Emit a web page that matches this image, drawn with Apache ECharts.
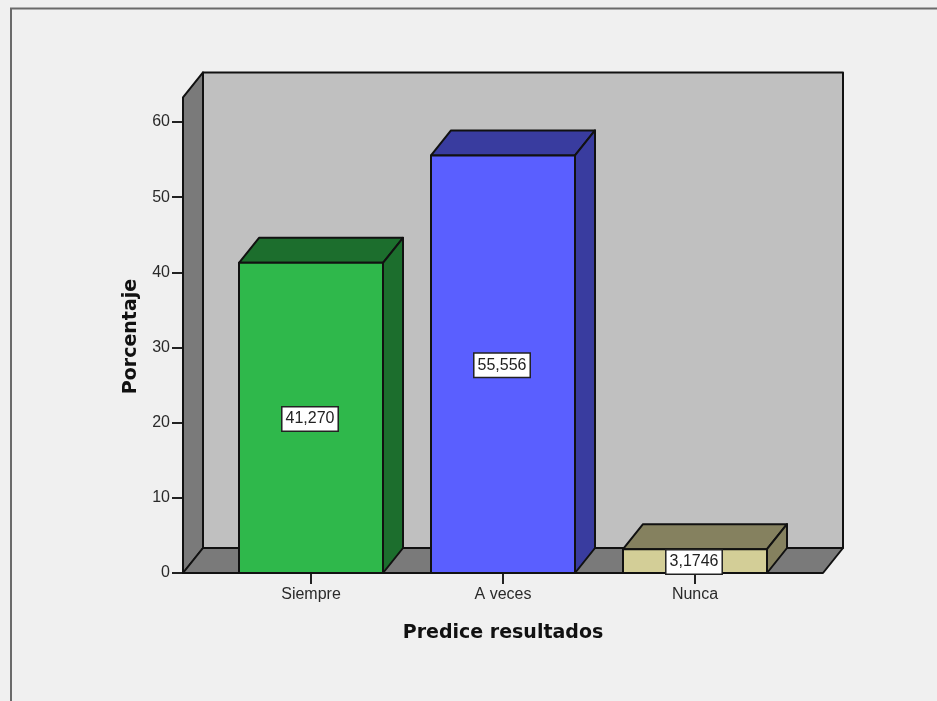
<!DOCTYPE html>
<html><head><meta charset="utf-8">
<style>html,body{margin:0;padding:0;background:#f0f0f0}#c{width:937px;height:701px}</style>
<script src="https://cdn.jsdelivr.net/npm/echarts@6/dist/echarts.min.js"></script>
</head><body><div id="c"></div>
<script>
const categories = ['Siempre', 'A veces', 'Nunca'];
const porcentaje = [41.270, 55.556, 3.1746];
const valueLabels = ['41,270', '55,556', '3,1746'];
const frontColors = ['#2fb84b', '#5a5fff', '#d3ce97'];
const topColors = ['#1c6e2d', '#393c9f', '#85815f'];
const sideColors = ['#1c6e2d', '#393c9f', '#85815f'];
const wallTop = 63.27;

const DX = 20, DY = -25, INK = '#111', LW = 2;
const chart = echarts.init(document.getElementById('c'), null, {renderer: 'canvas'});
const poly = (pts, fill) => ({type: 'polygon', shape: {points: pts}, style: {fill, stroke: INK, lineWidth: LW, lineJoin: 'round'}});

function renderWalls(params, api) {
  if (params.dataIndex !== 0) return {type: 'group', children: []};
  const band = api.size([1, 0])[0];
  const c0 = api.coord([0, 0]);
  const cN = api.coord([categories.length - 1, 0]);
  const t = api.coord([0, wallTop])[1];
  const b = c0[1];
  const l = c0[0] - band / 2 - band / 6;
  const r = cN[0] + band / 2 + band / 6;
  return {type: 'group', children: [
    poly([[l + DX, t + DY], [r + DX, t + DY], [r + DX, b + DY], [l + DX, b + DY]], '#c0c0c0'),
    poly([[l, t], [l + DX, t + DY], [l + DX, b + DY], [l, b]], '#7a7a7a'),
    poly([[l, b], [l + DX, b + DY], [r + DX, b + DY], [r, b]], '#7a7a7a')
  ]};
}

function renderBars(params, api) {
  const i = params.dataIndex;
  const w = api.size([1, 0])[0] * 0.75;
  const p = api.coord([i, api.value(1)]);
  const b = api.coord([i, 0])[1];
  const l = p[0] - w / 2, r = p[0] + w / 2, t = p[1];
  return {type: 'group', children: [
    poly([[l, t], [l + DX, t + DY], [r + DX, t + DY], [r, t]], topColors[i]),
    poly([[r, t], [r + DX, t + DY], [r + DX, b + DY], [r, b]], sideColors[i]),
    poly([[l, t], [r, t], [r, b], [l, b]], frontColors[i]),
    {type: 'text', style: {
      x: p[0] - 1, y: (t + b) / 2 + 1, text: valueLabels[i], align: 'center', verticalAlign: 'middle',
      fill: '#222', font: '16px "Liberation Sans", Arial, sans-serif',
      backgroundColor: '#fff', borderColor: '#222', borderWidth: 1.5, padding: [4, 3, 3, 3]
    }}
  ]};
}

const seriesData = categories.map((c, i) => [i, porcentaje[i]]);
chart.setOption({
  animation: false,
  backgroundColor: '#f0f0f0',
  graphic: [{type: 'polyline', z: 0, shape: {points: [[11, 701], [11, 8.5], [937, 8.5]]},
    style: {fill: 'none', stroke: '#6a6a6a', lineWidth: 2}}],
  grid: {left: 215, width: 576, top: 122, height: 451, containLabel: false},
  xAxis: {
    type: 'category', data: categories,
    name: 'Predice resultados', nameLocation: 'middle', nameGap: 51,
    nameTextStyle: {fontFamily: 'DejaVu Sans', fontWeight: 'bold', fontSize: 19, color: '#111'},
    axisLine: {show: false},
    axisTick: {show: true, alignWithLabel: true, length: 11, lineStyle: {color: '#222', width: 2}},
    axisLabel: {margin: 14, color: '#2a2a2a', fontFamily: 'Liberation Sans', fontSize: 16}
  },
  yAxis: {
    type: 'value', min: 0, max: 60, interval: 10, offset: 32,
    name: 'Porcentaje', nameLocation: 'middle', nameGap: 42, nameRotate: 90,
    nameTextStyle: {fontFamily: 'DejaVu Sans', fontWeight: 'bold', fontSize: 19, color: '#111', padding: [0, 0, 0, 22]},
    axisLine: {show: false},
    splitLine: {show: false},
    axisTick: {show: true, length: 11, lineStyle: {color: '#222', width: 2}},
    axisLabel: {margin: 13, color: '#2a2a2a', fontFamily: 'Liberation Sans', fontSize: 16}
  },
  series: [
    {type: 'custom', z: 1, clip: false, renderItem: renderWalls, data: seriesData, silent: true},
    {type: 'custom', z: 2, clip: false, renderItem: renderBars, data: seriesData, silent: true}
  ]
});
</script></body></html>
